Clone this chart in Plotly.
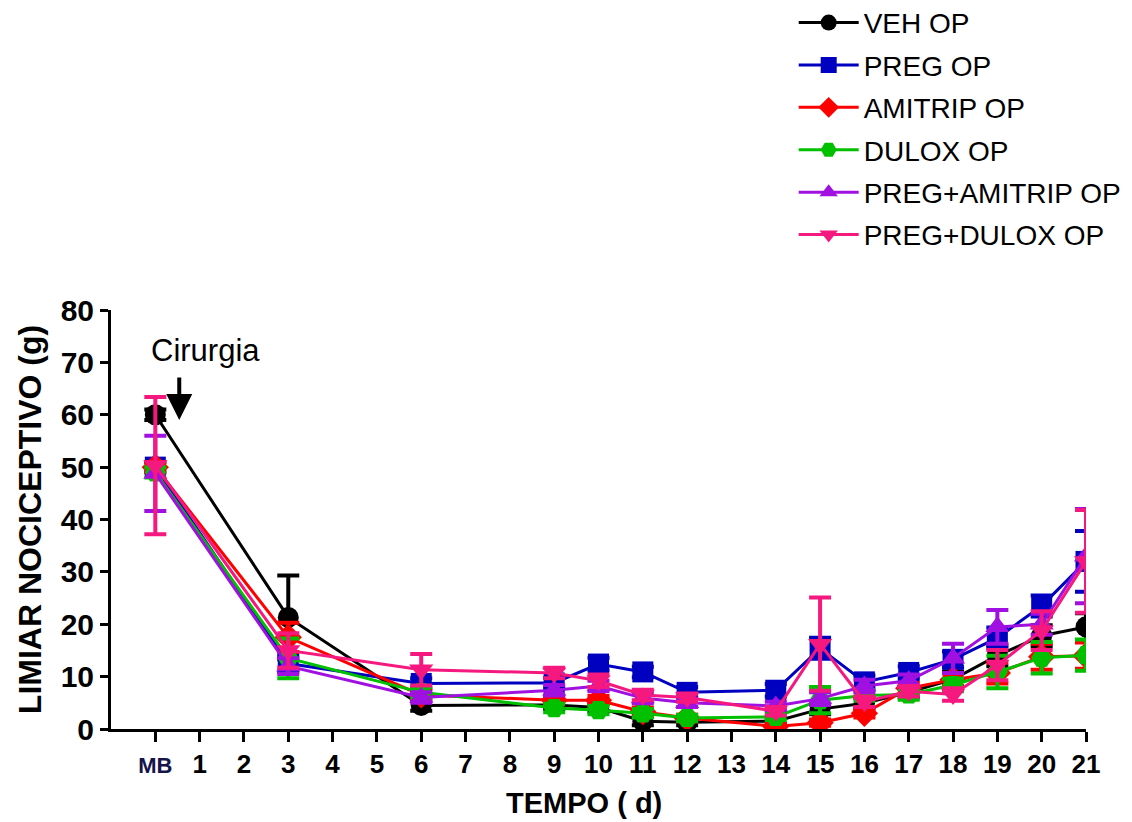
import plotly.graph_objects as go

# Days after baseline (MB = 0)
days = [0, 3, 6, 9, 10, 11, 12, 14, 15, 16, 17, 18, 19, 20, 21]

veh = [60.0, 21.3, 4.5, 4.6, 4.1, 1.5, 1.3, 1.5, 3.8, 4.9, 7.0, 9.5, 14.0, 17.8, 19.5]
veh_sem = [1.0, 8.0, 1.0, 0.8, 0.8, 0.8, 0.6, 0.6, 1.0, 1.0, 1.0, 1.5, 2.0, 2.0, 2.6]

preg = [50.0, 12.5, 8.7, 8.8, 12.4, 10.9, 7.0, 7.4, 15.4, 9.0, 10.8, 13.3, 17.4, 23.5, 32.0]
preg_sem = [1.0, 1.5, 1.0, 1.0, 1.2, 1.0, 1.0, 1.2, 2.0, 1.2, 1.2, 1.5, 2.0, 2.0, 5.8]

amitrip = [50.0, 17.5, 6.5, 5.5, 5.5, 3.3, 2.1, 0.5, 1.2, 3.0, 7.8, 9.4, 10.7, 13.8, 14.0]
amitrip_sem = [1.0, 2.8, 1.0, 0.8, 0.8, 0.8, 0.6, 0.5, 0.6, 0.8, 1.0, 1.2, 2.0, 2.5, 2.5]

dulox = [49.0, 13.5, 7.0, 4.0, 3.6, 3.0, 2.1, 2.3, 5.5, 6.4, 6.6, 8.4, 10.9, 13.6, 14.1]
dulox_sem = [1.0, 3.8, 1.0, 0.8, 0.8, 0.8, 0.6, 0.6, 2.5, 1.0, 1.0, 1.2, 3.1, 3.0, 3.0]

preg_amitrip = [48.8, 12.0, 6.0, 7.4, 8.2, 5.9, 5.0, 4.4, 5.8, 8.2, 9.2, 13.5, 19.5, 20.0, 33.0]
preg_amitrip_sem = [7.2, 1.5, 1.0, 1.0, 1.0, 1.0, 0.8, 0.8, 1.2, 1.2, 1.2, 2.8, 3.2, 2.0, 9.0]

preg_dulox = [50.3, 15.0, 11.3, 10.7, 9.2, 6.5, 6.0, 3.4, 16.2, 5.2, 7.2, 6.6, 12.2, 18.8, 32.0]
preg_dulox_sem = [13.1, 3.3, 3.0, 1.0, 1.2, 1.0, 0.8, 0.8, 8.9, 1.0, 1.0, 1.2, 2.9, 3.7, 9.8]

tick_vals = list(range(0, 22))
tick_text = ["<span style='font-size:22px;color:#15154a'>MB</span>"] + [str(d) for d in range(1, 22)]

FONT = "Arial, 'Liberation Sans', sans-serif"

series = [
    ("VEH OP", veh, veh_sem, "#000000", "circle"),
    ("PREG OP", preg, preg_sem, "#0000C0", "square"),
    ("AMITRIP OP", amitrip, amitrip_sem, "#FF0000", "diamond"),
    ("DULOX OP", dulox, dulox_sem, "#00C000", "hexagon2"),
    ("PREG+AMITRIP OP", preg_amitrip, preg_amitrip_sem, "#A010E0", "triangle-up"),
    ("PREG+DULOX OP", preg_dulox, preg_dulox_sem, "#F5187F", "triangle-down"),
]

fig = go.Figure()
for name, vals, sem, color, symbol in series:
    fig.add_trace(go.Scatter(
        x=days, y=vals, name=name, legendgroup=name,
        mode="lines+markers",
        line=dict(color=color, width=3),
        marker=dict(symbol=symbol, size=21, color=color, line=dict(width=0)),
        error_y=dict(type="data", array=sem, visible=True, color=color,
                     thickness=4, width=11),
    ))

fig.add_annotation(x=1.13, y=72.2, text="Cirurgia", showarrow=False,
                   xref="x", yref="y", font=dict(size=31, color="black", family=FONT))
fig.add_annotation(x=0.54, y=59.0, ax=0.54, ay=67.4, xref="x", yref="y",
                   axref="x", ayref="y", text="", showarrow=True,
                   arrowhead=2, arrowwidth=4, arrowsize=1.3, arrowcolor="black")

# x-axis title placed as paper annotation
fig.add_annotation(x=0.485, y=-0.1766, xref="paper", yref="paper",
                   xanchor="center", yanchor="middle",
                   text="<b>TEMPO ( d)</b>", showarrow=False,
                   font=dict(size=29, family=FONT, color="black"))

fig.update_layout(
    width=1132, height=822,
    margin=dict(l=111, r=46, t=310, b=93, autoexpand=False),
    paper_bgcolor="white", plot_bgcolor="white",
    font=dict(family=FONT, color="black"),
    showlegend=True,
    legend=dict(x=0.7002, y=1.745, xanchor="left", yanchor="top",
                font=dict(size=28, family=FONT), tracegroupgap=3,
                itemwidth=60, bgcolor="rgba(0,0,0,0)"),
    xaxis=dict(
        range=[-1, 21], tickmode="array", tickvals=tick_vals, ticktext=tick_text,
        showline=True, linecolor="black", linewidth=3,
        ticks="outside", ticklen=10, tickwidth=3, tickcolor="black",
        showgrid=False, zeroline=False, automargin=False,
        tickfont=dict(size=26, family=FONT, weight="bold"),
    ),
    yaxis=dict(
        range=[0, 80], tickmode="array", tickvals=list(range(0, 81, 10)),
        showline=True, linecolor="black", linewidth=3,
        ticks="outside", ticklen=8, tickwidth=3, tickcolor="black",
        showgrid=False, zeroline=False, automargin=False,
        tickfont=dict(size=30, family=FONT, weight="bold"),
        title=dict(text="<b>LIMIAR NOCICEPTIVO (g)</b>", font=dict(size=32, family=FONT), standoff=10),
    ),
)

fig.write_html("out.html")
